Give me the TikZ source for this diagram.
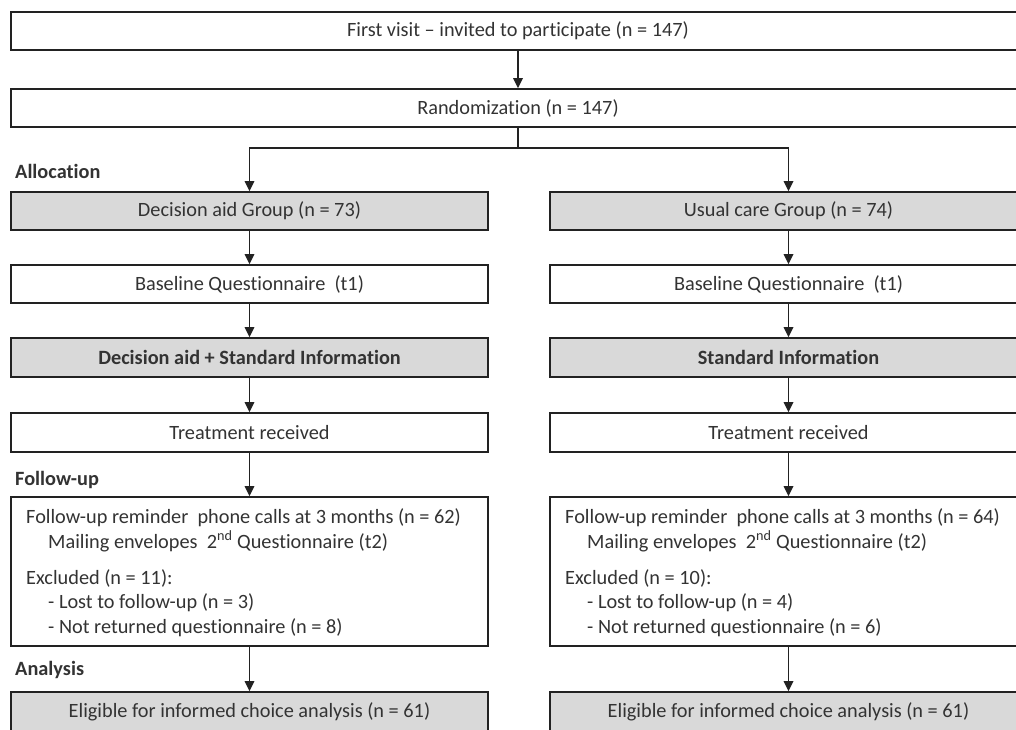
\documentclass[tikz,border=0pt]{standalone}
\usepackage{fontspec}
\setmainfont{Carlito}[Ligatures=NoCommon]
\usetikzlibrary{arrows.meta}
\definecolor{txt}{HTML}{333333}
\definecolor{boxgray}{HTML}{D9D9D9}
\definecolor{edgecol}{HTML}{222222}
\begin{document}
\begin{tikzpicture}[x=1pt,y=-1pt,
  every node/.style={font=\fontsize{20.3}{25}\selectfont, text=txt},
  plainbox/.style={draw=edgecol, line width=1.7pt, fill=white, minimum height=38pt, inner sep=0pt},
  graybox/.style={plainbox, fill=boxgray},
  colbox/.style={minimum width=477pt},
  link/.style={draw=edgecol, line width=1.7pt},
  conn/.style={link, -{Triangle[length=10pt,width=9.5pt]}},
  phase/.style={font=\fontsize{20.3}{22}\selectfont\bfseries, anchor=base west, inner sep=0pt},
  txtline/.style={anchor=base west, inner sep=0pt}]
\useasboundingbox (0,0) rectangle (1016,729);
\fill[white] (0,0) rectangle (1016,729);

\node[plainbox, minimum width=1014pt] (visit) at (518,31) {First visit -- invited to participate (n = 147)};
\node[plainbox, minimum width=1014pt] (rand) at (518,108) {Randomization (n = 147)};
\coordinate (split) at (518,148);

\node[phase] (lalloc) at (15,178) {Allocation};
\node[phase] (lfollow) at (15,485) {Follow-up};
\node[phase] (lanalysis) at (15,675) {Analysis};

% left column
\node[graybox,colbox] (gda) at (249.5,211) {Decision aid Group (n = 73)};
\node[plainbox,colbox] (bda) at (249.5,284) {Baseline Questionnaire~ (t1)};
\node[graybox,colbox,minimum height=39pt] (ida) at (249.5,357.5) {\bfseries Decision aid + Standard Information};
\node[plainbox,colbox,minimum height=39pt] (tda) at (249.5,432.5) {Treatment received};
\node[plainbox,colbox,minimum height=149pt] (fda) at (249.5,571.5) {};
\node[graybox,colbox,minimum height=40pt] (eda) at (249.5,712) {Eligible for informed choice analysis (n = 61)};

\node[txtline] (fda1) at (26,523) {Follow-up reminder~ phone calls at 3 months (n = 62)};
\node[txtline] (fda2) at (48,548) {Mailing envelopes~ 2\textsuperscript{nd} Questionnaire (t2)};
\node[txtline] (fda3) at (26,584) {Excluded (n = 11):};
\node[txtline] (fda4) at (48,608) {- Lost to follow-up (n = 3)};
\node[txtline] (fda5) at (48,633) {- Not returned questionnaire (n = 8)};

% right column
\node[graybox,colbox] (guc) at (788.5,211) {Usual care Group (n = 74)};
\node[plainbox,colbox] (buc) at (788.5,284) {Baseline Questionnaire~ (t1)};
\node[graybox,colbox,minimum height=39pt] (iuc) at (788.5,357.5) {\bfseries Standard Information};
\node[plainbox,colbox,minimum height=39pt] (tuc) at (788.5,432.5) {Treatment received};
\node[plainbox,colbox,minimum height=149pt] (fuc) at (788.5,571.5) {};
\node[graybox,colbox,minimum height=40pt] (euc) at (788.5,712) {Eligible for informed choice analysis (n = 61)};

\node[txtline] (fuc1) at (565,523) {Follow-up reminder~ phone calls at 3 months (n = 64)};
\node[txtline] (fuc2) at (587,548) {Mailing envelopes~ 2\textsuperscript{nd} Questionnaire (t2)};
\node[txtline] (fuc3) at (565,584) {Excluded (n = 10):};
\node[txtline] (fuc4) at (587,608) {- Lost to follow-up (n = 4)};
\node[txtline] (fuc5) at (587,633) {- Not returned questionnaire (n = 6)};

% connectors
\draw[conn] (visit) -- (rand);
\draw[link] (rand) -- (split);
\draw[conn] (split) -| (gda);
\draw[conn] (split) -| (guc);
\draw[conn] (gda) -- (bda);
\draw[conn] (bda) -- (ida);
\draw[conn] (ida) -- (tda);
\draw[conn] (tda) -- (fda);
\draw[conn] (fda) -- (eda);
\draw[conn] (guc) -- (buc);
\draw[conn] (buc) -- (iuc);
\draw[conn] (iuc) -- (tuc);
\draw[conn] (tuc) -- (fuc);
\draw[conn] (fuc) -- (euc);
\end{tikzpicture}
\end{document}
